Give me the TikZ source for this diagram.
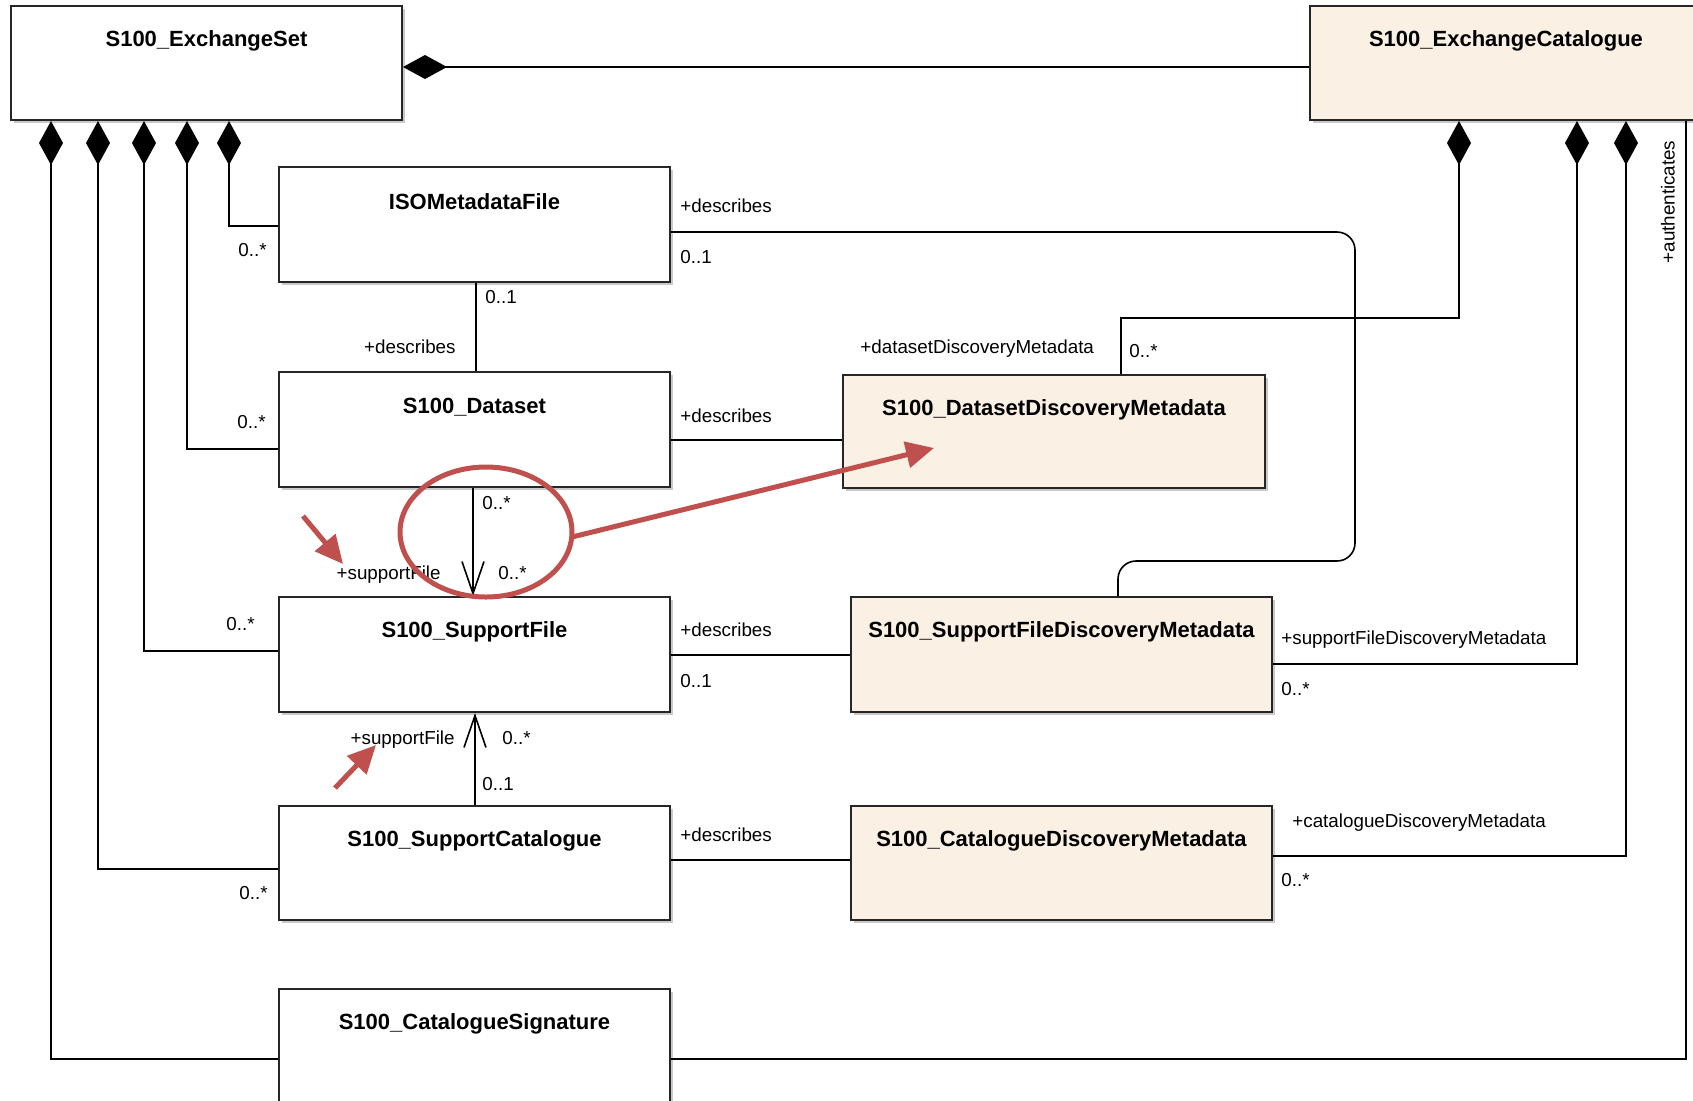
\documentclass[tikz,border=0pt]{standalone}
\usepackage{fontspec}
\setmainfont{Liberation Sans}
\usetikzlibrary{arrows.meta, fit, shadows}
\definecolor{metafill}{RGB}{250,240,228}
\definecolor{markred}{RGB}{192,80,77}
\tikzset{>={Straight Barb[length=16pt,width=11pt]}}

\begin{document}
\begin{tikzpicture}[x=0.5pt, y=-0.5pt,
    umlclass/.style={draw=black!85, line width=1pt, fill=white, inner sep=0pt,
      drop shadow={shadow xshift=1.5pt, shadow yshift=-1.5pt, fill=black!60, opacity=0.35}},
    meta/.style={umlclass, fill=metafill},
    classname/.style={font=\bfseries\fontsize{11}{13}\selectfont, anchor=center, yshift=-18pt},
    role/.style={font=\fontsize{9.4}{11}\selectfont, inner sep=1pt},
    link/.style={line width=0.8pt},
    compose/.style={link, arrows={Diamond[length=22pt,width=12pt]-}},
    redmark/.style={draw=markred, line width=2.5pt},
    redtip/.style={arrows={-Triangle[length=14pt,width=13pt]}}]
    \clip (0,0) rectangle (1693,1100);
    \fill[white] (0,0) rectangle (1693,1100);
    % classes
    \node[umlclass, fit={(11,6) (402,120)}, label={[classname]north:S100\_ExchangeSet}] (es) {};
    \node[meta, fit={(1310,6) (1702,120)}, label={[classname]north:S100\_ExchangeCatalogue}] (ec) {};
    \node[umlclass, fit={(279,167) (670,282)}, label={[classname]north:ISOMetadataFile}] (iso) {};
    \node[umlclass, fit={(279,372) (670,487)}, label={[classname]north:S100\_Dataset}] (ds) {};
    \node[meta, fit={(843,375) (1265,488)}, label={[classname]north:S100\_DatasetDiscoveryMetadata}] (ddm) {};
    \node[umlclass, fit={(279,597) (670,712)}, label={[classname]north:S100\_SupportFile}] (sf) {};
    \node[meta, fit={(851,597) (1272,712)}, label={[classname]north:S100\_SupportFileDiscoveryMetadata}] (sfdm) {};
    \node[umlclass, fit={(279,806) (670,920)}, label={[classname]north:S100\_SupportCatalogue}] (sc) {};
    \node[meta, fit={(851,806) (1272,920)}, label={[classname]north:S100\_CatalogueDiscoveryMetadata}] (cdm) {};
    \node[umlclass, fit={(279,989) (670,1129)}, label={[classname]north:S100\_CatalogueSignature}] (sig) {};
    % compositions of the exchange set
    \draw[compose] (es.east |- 0,67) -- (ec.west |- 0,67);
    \draw[compose] (es.south -| 229,0) |- (iso.west |- 0,226);
    \draw[compose] (es.south -| 187,0) |- (ds.west |- 0,449);
    \draw[compose] (es.south -| 144,0) |- (sf.west |- 0,651);
    \draw[compose] (es.south -| 98,0) |- (sc.west |- 0,869);
    \draw[compose] (es.south -| 51,0) |- (sig.west |- 0,1059);
    % compositions of the catalogue
    \draw[compose] (ec.south -| 1459,0) |- (1121,318) -- (ddm.north -| 1121,0);
    \draw[compose] (ec.south -| 1577,0) |- (sfdm.east |- 0,664);
    \draw[compose] (ec.south -| 1626,0) |- (cdm.east |- 0,856);
    \draw[link] (ec.south -| 1686,0) |- (sig.east |- 0,1059);
    % associations
    \draw[link, rounded corners=9pt] (iso.east |- 0,232) -| (1355,561) -| (sfdm.north -| 1118,0);
    \draw[link] (ds.east |- 0,440) -- (ddm.west |- 0,440);
    \draw[link] (sf.east |- 0,655) -- (sfdm.west |- 0,655);
    \draw[link] (sc.east |- 0,860) -- (cdm.west |- 0,860);
    \draw[link] (iso.south -| 476,0) -- (ds.north -| 476,0);
    \draw[link, ->] (ds.south -| 473,0) -- (sf.north -| 473,0);
    \draw[link, ->] (sc.north -| 475,0) -- (sf.south -| 475,0);
    % roles and multiplicities
    \node[role, anchor=east] at (269,250) {0..*};
    \node[role, anchor=east] at (268,422) {0..*};
    \node[role, anchor=east] at (257,624) {0..*};
    \node[role, anchor=east] at (270,893) {0..*};
    \node[role, anchor=west] at (678,206) {+describes};
    \node[role, anchor=west] at (678,257) {0..1};
    \node[role, anchor=west] at (483,297) {0..1};
    \node[role, anchor=east] at (458,347) {+describes};
    \node[role, anchor=west] at (678,416) {+describes};
    \node[role, anchor=west] at (858,349) {+datasetDiscoveryMetadata};
    \node[role, anchor=west] at (1127,351) {0..*};
    \node[role, anchor=west] at (480,503) {0..*};
    \node[role, anchor=west] at (496,573) {0..*};
    \node[role, anchor=east] at (443,575) {+supportFile};
    \node[role, anchor=west] at (678,630) {+describes};
    \node[role, anchor=west] at (678,681) {0..1};
    \node[role, anchor=west] at (1279,640) {+supportFileDiscoveryMetadata};
    \node[role, anchor=west] at (1279,689) {0..*};
    \node[role, anchor=east] at (457,740) {+supportFile};
    \node[role, anchor=west] at (500,738) {0..*};
    \node[role, anchor=west] at (480,784) {0..1};
    \node[role, anchor=west] at (678,835) {+describes};
    \node[role, anchor=west] at (1290,823) {+catalogueDiscoveryMetadata};
    \node[role, anchor=west] at (1279,880) {0..*};
    \node[role, rotate=90] at (1668,202) {+authenticates};
    % red marks
    \draw[redmark] (486,532) ellipse [x radius=43pt, y radius=32.5pt];
    \draw[redmark, redtip] (572,537) -- (934,448);
    \draw[redmark, redtip] (303,516) -- (343,564);
    \draw[redmark, redtip] (335,788) -- (376,745);
\end{tikzpicture}
\end{document}
